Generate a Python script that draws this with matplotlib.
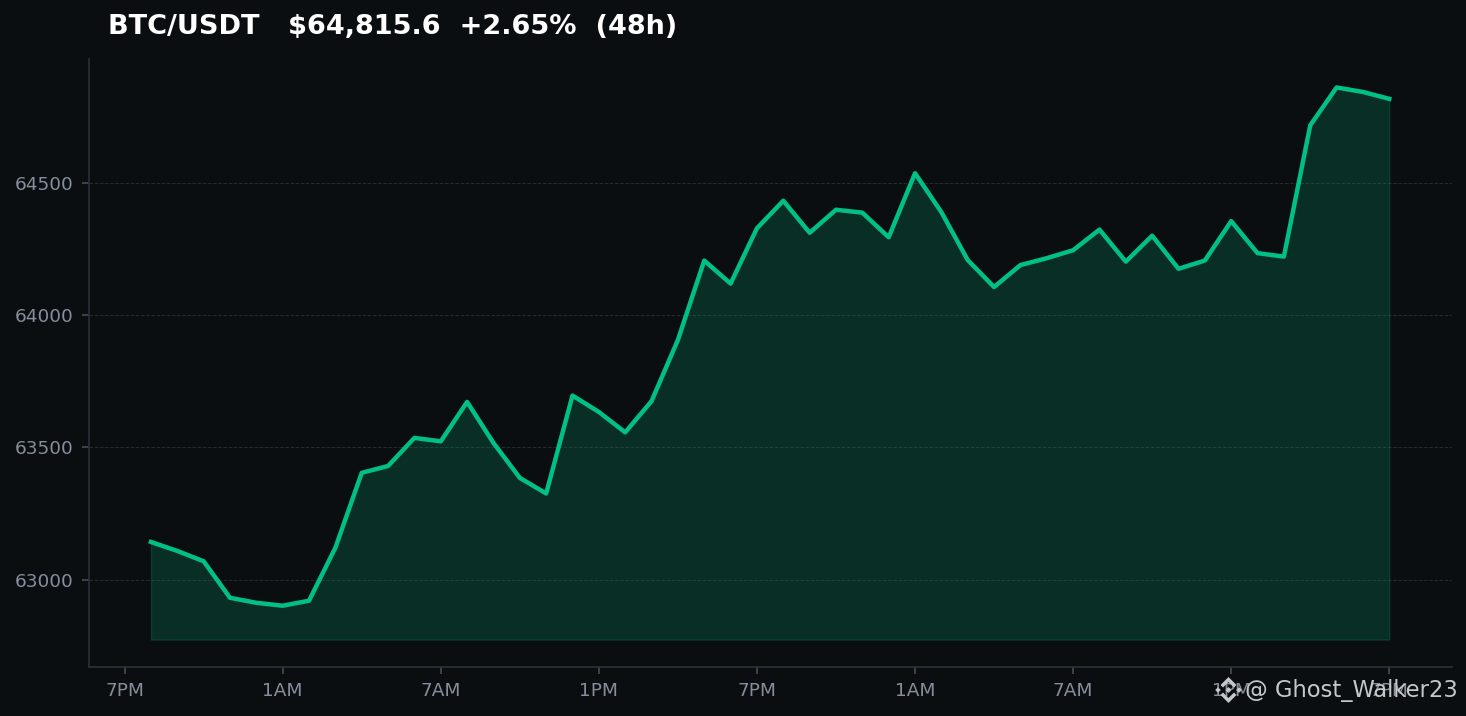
import matplotlib
matplotlib.use('Agg')
import matplotlib.pyplot as plt
from matplotlib.patches import Polygon

# hours after the first 7PM tick
hours = list(range(1, 49))
prices = [63143, 63109, 63070, 62932, 62913, 62902, 62921, 63121, 63404, 63430,
          63536, 63523, 63672, 63517, 63385, 63326, 63696, 63634, 63557, 63675,
          63906, 64206, 64119, 64328, 64432, 64311, 64398, 64387, 64294, 64536,
          64389, 64208, 64106, 64189, 64215, 64245, 64323, 64202, 64300, 64175,
          64206, 64355, 64234, 64221, 64717, 64860, 64843, 64817]
fill_base = 62774
tick_hours = [0, 6, 12, 18, 24, 30, 36, 42, 48]
tick_labels = ['7PM', '1AM', '7AM', '1PM', '7PM', '1AM', '7AM', '1PM', '7PM']
y_ticks = [63000, 63500, 64000, 64500]

bg = '#0b0e11'
green = '#00c087'
spine = '#2b3139'
tick_col = '#848e9c'

fig = plt.figure(figsize=(14.66, 7.16), dpi=100, facecolor=bg)
ax = fig.add_axes([88.5 / 1466, 1 - 666.6 / 716, (1452 - 88.5) / 1466, (666.6 - 59.4) / 716], facecolor=bg)

ax.fill_between(hours, prices, fill_base, color=green, alpha=0.18)
ax.plot(hours, prices, color=green, linewidth=3.2)

ax.set_xlim(-1.37, 50.38)
ax.set_ylim(62672, 64966)
ax.set_xticks(tick_hours)
ax.set_xticklabels(tick_labels)
ax.set_yticks(y_ticks)
ax.tick_params(colors='#474d57', labelcolor=tick_col, labelsize=13.3, length=5, width=1.2, pad=6)
ax.grid(axis='y', color=spine, linestyle='--', linewidth=0.7, alpha=0.8)
ax.set_axisbelow(True)

ax.spines['top'].set_visible(False)
ax.spines['right'].set_visible(False)
ax.spines['left'].set_color(spine)
ax.spines['bottom'].set_color(spine)
ax.spines['left'].set_linewidth(1.2)
ax.spines['bottom'].set_linewidth(1.2)

fig.text(108 / 1466, 1 - 27 / 716, 'BTC/USDT   $64,815.6  +2.65%  (48h)', color='white',
         fontsize=19.5, fontweight='bold', va='center', ha='left')

# watermark
wm = '#c4c8cc'
fig.text(1458 / 1466, 1 - 691 / 716, '@ Ghost_Walker23', color=wm, fontsize=16.3,
         va='center', ha='right')


def logo_part(pts, cx=1228.5, cy=690):
    pts = [((cx + x) / 1466, 1 - (cy + y) / 716) for x, y in pts]
    fig.add_artist(Polygon(pts, transform=fig.transFigure, color=wm, lw=0))


logo_part([(0, -13), (8, -5), (5.5, -2.5), (0, -8), (-5.5, -2.5), (-8, -5)])
logo_part([(0, 13), (8, 5), (5.5, 2.5), (0, 8), (-5.5, 2.5), (-8, 5)])
logo_part([(-10.5, -2.8), (-7.7, 0), (-10.5, 2.8), (-13.3, 0)])
logo_part([(10.5, -2.8), (13.3, 0), (10.5, 2.8), (7.7, 0)])
logo_part([(0, -3), (3, 0), (0, 3), (-3, 0)])

fig.savefig('out.png', dpi=100, facecolor=bg)
